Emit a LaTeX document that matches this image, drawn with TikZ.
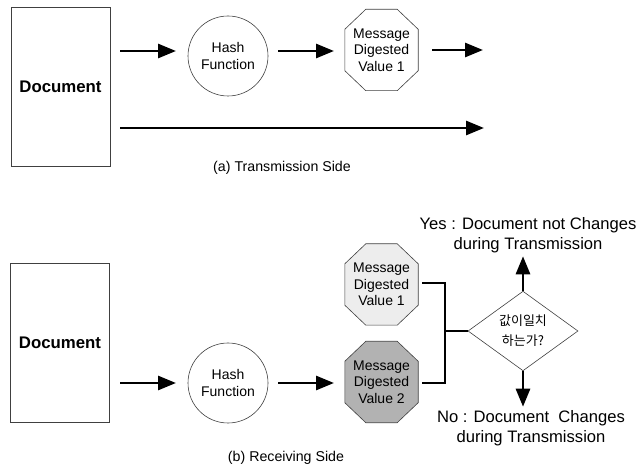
\documentclass[tikz,border=0pt]{standalone}
\usepackage{fontspec}
\setmainfont{Liberation Sans}
\newfontfamily\krfont{Noto Sans CJK KR}
\usetikzlibrary{arrows.meta,shapes.geometric}
\tikzset{
  docbox/.style={draw=black!75, line width=0.6pt, minimum width=99pt, minimum height=159pt, inner sep=0pt, font=\fontsize{16.8}{18}\selectfont\bfseries},
  hashnode/.style={circle, draw=black!75, line width=0.6pt, minimum size=80pt, inner sep=0pt, align=center, font=\fontsize{14}{16.5}\selectfont},
  octbox/.style={minimum width=73pt, minimum height=81pt, inner sep=0pt, align=center, font=\fontsize{14}{16.5}\selectfont},
  octline/.style={draw=black!75, line width=0.6pt},
  bigarrow/.style={line width=2.8pt, -{Triangle[length=18pt,width=14pt]}},
  bracket/.style={line width=1.3pt},
  caption/.style={font=\fontsize{14.2}{16}\selectfont},
  result/.style={align=center, font=\fontsize{16.6}{20}\selectfont},
  decision/.style={diamond, draw=black!75, line width=0.6pt, minimum width=110pt, minimum height=66pt, inner sep=0pt, align=center, font=\krfont\fontsize{13}{20}\selectfont}
}
\newcommand{\octshape}[2]{%
  \draw[octline, fill=#2] ([xshift=21pt]#1.north west) -- ([xshift=-21pt]#1.north east) -- ([yshift=-20pt]#1.north east) -- ([yshift=20pt]#1.south east) -- ([xshift=-21pt]#1.south east) -- ([xshift=21pt]#1.south west) -- ([yshift=20pt]#1.south west) -- ([yshift=-20pt]#1.north west) -- cycle;}
\begin{document}
\begin{tikzpicture}[x=1pt,y=-1pt]
\useasboundingbox (0,0) rectangle (638,465);
% ---------- (a) Transmission side
\node[docbox] (docA) at (60.5,86.5) {Document};
\node[hashnode] (hashA) at (228,56) {Hash\\Function};
\node[octbox] (octA) at (381.5,50) {};
\octshape{octA}{white}
\node[octbox] at (octA) {Message\\Digested\\Value 1};
\coordinate (a1s) at (120,51);
\coordinate (a1e) at (176,51);
\coordinate (a2s) at (278,51);
\coordinate (a2e) at (334,51);
\coordinate (a3s) at (432,50);
\coordinate (a3e) at (483,50);
\coordinate (a4s) at (120,128);
\coordinate (a4e) at (484,128);
\draw[bigarrow] (a1s) -- (a1e);
\draw[bigarrow] (a2s) -- (a2e);
\draw[bigarrow] (a3s) -- (a3e);
\draw[bigarrow] (a4s) -- (a4e);
\node[caption] (capA) at (282,168) {(a) Transmission Side};
% ---------- (b) Receiving side
\node[docbox] (docB) at (60,343) {Document};
\node[hashnode] (hashB) at (228,383) {Hash\\Function};
\coordinate (b1s) at (120,383);
\coordinate (b1e) at (176,383);
\coordinate (b2s) at (278,383);
\coordinate (b2e) at (334,383);
\draw[bigarrow] (b1s) -- (b1e);
\draw[bigarrow] (b2s) -- (b2e);
\node[octbox] (octB1) at (381.5,284.5) {};
\octshape{octB1}{black!7}
\node[octbox] at (octB1) {Message\\Digested\\Value 1};
\node[octbox] (octB2) at (381.5,382) {};
\octshape{octB2}{black!30}
\node[octbox] at (octB2) {Message\\Digested\\Value 2};
\node[decision] (dec) at (523,331) {값이일치\\하는가?};
\coordinate (j1) at (445,283);
\coordinate (j2) at (445,383);
\coordinate (jm) at (445,331);
\draw[bracket] ([xshift=4pt]octB1.east |- j1) -- (j1) -- (j2) -- ([xshift=4pt]octB2.east |- j2);
\draw[bracket] (jm) -- (dec.west);
\node[result] (yes) at (528,235) {Yes : Document not Changes\\during Transmission};
\node[result] (no) at (531,428) {No : Document\ \ Changes\\during Transmission};
\draw[bigarrow] (dec.north) -- (dec.north |- yes.south);
\draw[bigarrow] (dec.south) -- (dec.south |- no.north);
\node[caption] (capB) at (286,458) {(b) Receiving Side};
\end{tikzpicture}
\end{document}
